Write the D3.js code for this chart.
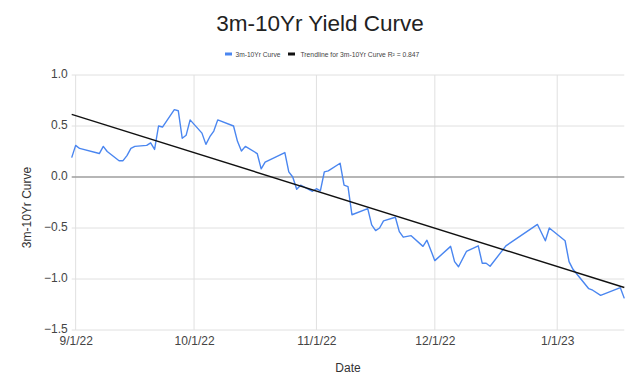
<!DOCTYPE html>
<html><head><meta charset="utf-8">
<script src="https://cdn.jsdelivr.net/npm/d3@7"></script>
<style>body{margin:0;background:#fff}svg{display:block;font-family:"Liberation Sans",Arial,sans-serif}</style>
</head><body><svg id="c" width="640" height="382"></svg>
<script>
const chartTitle = "3m-10Yr Yield Curve";
const seriesName = "3m-10Yr Curve";
const trendName = "Trendline for 3m-10Yr Curve R² = 0.847";
const xTitle = "Date";
const yTitle = "3m-10Yr Curve";
const dates = ["2022-08-31","2022-09-01","2022-09-02","2022-09-07","2022-09-08","2022-09-09","2022-09-12","2022-09-13","2022-09-14","2022-09-15","2022-09-16","2022-09-19","2022-09-20","2022-09-21","2022-09-22","2022-09-23","2022-09-26","2022-09-27","2022-09-28","2022-09-29","2022-09-30","2022-10-03","2022-10-04","2022-10-05","2022-10-06","2022-10-07","2022-10-11","2022-10-12","2022-10-13","2022-10-14","2022-10-17","2022-10-18","2022-10-19","2022-10-24","2022-10-25","2022-10-26","2022-10-27","2022-10-28","2022-10-31","2022-11-01","2022-11-02","2022-11-03","2022-11-04","2022-11-07","2022-11-08","2022-11-09","2022-11-10","2022-11-14","2022-11-15","2022-11-16","2022-11-17","2022-11-18","2022-11-21","2022-11-22","2022-11-23","2022-11-25","2022-11-28","2022-11-29","2022-12-01","2022-12-05","2022-12-06","2022-12-07","2022-12-09","2022-12-12","2022-12-13","2022-12-14","2022-12-15","2022-12-19","2022-12-27","2022-12-29","2022-12-30","2023-01-03","2023-01-04","2023-01-05","2023-01-09","2023-01-10","2023-01-12","2023-01-17","2023-01-18"];
const values = [0.19,0.31,0.28,0.23,0.30,0.25,0.16,0.16,0.21,0.28,0.30,0.31,0.335,0.27,0.50,0.49,0.66,0.65,0.38,0.41,0.56,0.43,0.32,0.395,0.45,0.56,0.50,0.35,0.255,0.30,0.23,0.08,0.145,0.24,0.05,0.00,-0.12,-0.08,-0.14,-0.115,-0.135,0.05,0.06,0.135,-0.08,-0.095,-0.37,-0.31,-0.47,-0.525,-0.50,-0.43,-0.395,-0.535,-0.59,-0.575,-0.68,-0.62,-0.82,-0.68,-0.83,-0.88,-0.73,-0.675,-0.845,-0.845,-0.875,-0.675,-0.465,-0.625,-0.50,-0.625,-0.83,-0.905,-1.095,-1.11,-1.16,-1.085,-1.19];
const yTicks = [1.0,0.5,0.0,-0.5,-1.0,-1.5];
const xTickDates = ["2022-09-01","2022-10-01","2022-11-01","2022-12-01","2023-01-01"];
const xTickLabels = ["9/1/22","10/1/22","11/1/22","12/1/22","1/1/23"];
const xDomain = ["2022-08-31","2023-01-18"];

const parse = d3.utcParse("%Y-%m-%d");
const data = dates.map((d,i)=>({x:parse(d), y:values[i]}));
const svg = d3.select("#c");
const L=71.7, R=624.3, T=75, B=330;
const x = d3.scaleUtc().domain(xDomain.map(parse)).range([L,R]);
const y = d3.scaleLinear().domain([-1.5,1.0]).range([B,T]);

// gridlines
svg.append("g").selectAll("line").data(yTicks.filter(v=>v!==0)).join("line")
  .attr("x1",L).attr("x2",R).attr("y1",d=>y(d)).attr("y2",d=>y(d))
  .attr("stroke","#e0e0e0").attr("stroke-width",1);
svg.append("g").selectAll("line").data(xTickDates.map(parse)).join("line")
  .attr("x1",d=>x(d)).attr("x2",d=>x(d)).attr("y1",T).attr("y2",B)
  .attr("stroke","#e0e0e0").attr("stroke-width",1);
svg.append("line").attr("x1",L).attr("x2",R).attr("y1",y(0)).attr("y2",y(0))
  .attr("stroke","#9e9e9e").attr("stroke-width",1.3);

// y axis labels
const yAxis = d3.axisLeft(y).tickValues(yTicks).tickFormat(d3.format(".1f")).tickSize(0).tickPadding(0);
const ga = svg.append("g").attr("transform",`translate(${L-4},-1)`).call(yAxis);
ga.select(".domain").remove();
ga.selectAll("text").attr("font-size",12).attr("fill","#444").attr("font-family","Liberation Sans, Arial, sans-serif");

// x axis labels
const xAxis = d3.axisBottom(x).tickValues(xTickDates.map(parse)).tickFormat((d,i)=>xTickLabels[i]).tickSize(0).tickPadding(0);
const gx = svg.append("g").attr("transform",`translate(0,${B+6})`).call(xAxis);
gx.select(".domain").remove();
gx.selectAll("text").attr("font-size",12).attr("fill","#444").attr("font-family","Liberation Sans, Arial, sans-serif");

// trendline (least squares on the data)
const xs = data.map(d=>+d.x), ys = data.map(d=>d.y);
const mx = d3.mean(xs), my = d3.mean(ys);
const slope = d3.sum(xs.map((v,i)=>(v-mx)*(ys[i]-my)))/d3.sum(xs.map(v=>(v-mx)*(v-mx)));
const icpt = my - slope*mx;
const td = x.domain().map(d=>({x:d, y:icpt+slope*(+d)}));
const line = d3.line().x(d=>x(d.x)).y(d=>y(d.y));
svg.append("path").datum(data).attr("d",line).attr("fill","none").attr("stroke","#4a86f0").attr("stroke-width",1.4).attr("stroke-linejoin","round");
svg.append("path").datum(td).attr("d",line).attr("fill","none").attr("stroke","#111").attr("stroke-width",1.4);

// title
svg.append("text").attr("x",320).attr("y",31).attr("text-anchor","middle").attr("font-size",22.5).attr("fill","#222").text(chartTitle);
// axis titles
svg.append("text").attr("x",(L+R)/2).attr("y",372).attr("text-anchor","middle").attr("font-size",12).attr("fill","#333").text(xTitle);
svg.append("text").attr("transform",`translate(31,${(T+B)/2+5}) rotate(-90)`).attr("text-anchor","middle").attr("font-size",12).attr("fill","#333").text(yTitle);

// legend
const lg = svg.append("g").attr("fill","#444");
lg.append("rect").attr("x",225).attr("y",52.5).attr("width",7).attr("height",3).attr("fill","#4a86f0");
const t1 = lg.append("text").attr("x",235.5).attr("y",56.5).attr("font-size",7).text(seriesName);
lg.append("rect").attr("x",288).attr("y",52.5).attr("width",7).attr("height",3).attr("fill","#111");
const t2 = lg.append("text").attr("x",300.5).attr("y",56.5).attr("font-size",7).text(trendName);
// size legend text to match the reference widths
[[t1,45],[t2,119]].forEach(([t,w])=>{const cw=t.node().getComputedTextLength(); if(cw>0) t.attr("font-size",7*w/cw);});
</script></body></html>
